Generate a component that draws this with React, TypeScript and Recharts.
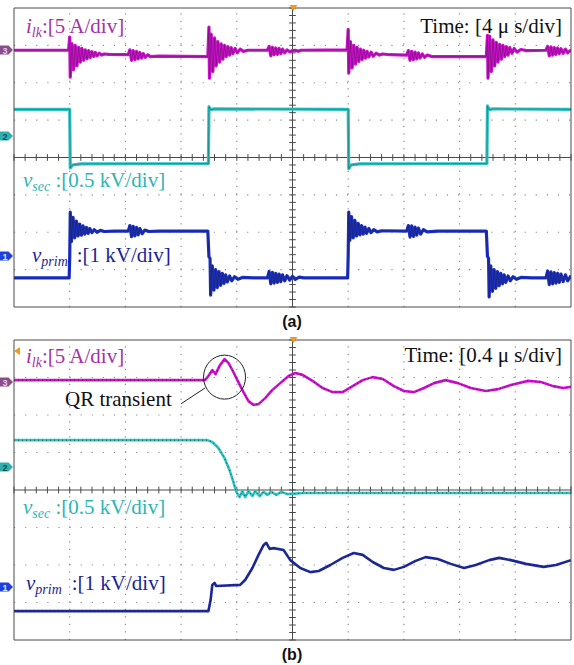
import { LineChart, Line, XAxis, YAxis, ReferenceLine, ReferenceDot } from 'recharts'

type Pt = [number, number]

// x in divisions (0..10), y in divisions (0..8)

// (a) 4 us/div
const A_ILK: Pt[] = [
  [0, 6.87], [0.98, 6.87],
  [1.0, 7.22], [1.01, 6.15], [1.04, 7.05], [1.07, 6.35], [1.1, 7.0], [1.13, 6.45], [1.16, 6.95], [1.19, 6.55],
  [1.22, 6.92], [1.25, 6.6], [1.28, 6.88], [1.31, 6.64], [1.34, 6.86], [1.37, 6.68], [1.4, 6.83], [1.43, 6.7],
  [1.46, 6.81], [1.49, 6.72], [1.53, 6.79], [1.57, 6.74], [1.62, 6.77], [1.7, 6.76], [2.05, 6.75],
  [2.08, 6.88], [2.11, 6.6], [2.14, 6.86], [2.17, 6.62], [2.2, 6.84], [2.23, 6.64], [2.26, 6.81], [2.29, 6.66],
  [2.32, 6.78], [2.36, 6.68], [2.4, 6.75], [2.45, 6.7], [2.6, 6.71], [3.48, 6.7],
  [3.5, 7.49], [3.51, 6.12], [3.54, 7.3], [3.57, 6.3], [3.6, 7.2], [3.63, 6.45], [3.66, 7.1], [3.69, 6.55],
  [3.72, 7.04], [3.75, 6.63], [3.78, 7.0], [3.81, 6.7], [3.84, 6.97], [3.87, 6.74], [3.9, 6.94], [3.93, 6.78],
  [3.97, 6.92], [4.01, 6.8], [4.06, 6.9], [4.12, 6.84], [4.2, 6.87], [4.55, 6.87],
  [4.58, 6.97], [4.61, 6.72], [4.64, 6.95], [4.67, 6.75], [4.7, 6.93], [4.73, 6.76], [4.76, 6.92], [4.79, 6.78],
  [4.82, 6.9], [4.86, 6.8], [4.9, 6.88], [4.95, 6.83], [5.0, 6.86], [5.05, 6.87], [5.1, 6.84], [5.15, 6.87], [5.98, 6.88],
  [6.0, 7.43], [6.01, 6.26], [6.04, 7.1], [6.07, 6.4], [6.1, 7.0], [6.13, 6.5], [6.16, 6.95], [6.19, 6.57],
  [6.22, 6.9], [6.25, 6.62], [6.28, 6.87], [6.31, 6.66], [6.34, 6.84], [6.37, 6.69], [6.41, 6.82], [6.45, 6.71],
  [6.5, 6.79], [6.56, 6.74], [6.62, 6.77], [6.75, 6.75], [7.05, 6.74],
  [7.08, 6.86], [7.11, 6.6], [7.14, 6.84], [7.17, 6.62], [7.2, 6.82], [7.23, 6.64], [7.26, 6.8], [7.29, 6.66],
  [7.33, 6.77], [7.37, 6.68], [7.42, 6.74], [7.5, 6.7], [8.48, 6.7],
  [8.5, 7.27], [8.51, 6.12], [8.54, 7.25], [8.57, 6.3], [8.6, 7.15], [8.63, 6.45], [8.66, 7.08], [8.69, 6.55],
  [8.72, 7.03], [8.75, 6.63], [8.78, 7.0], [8.81, 6.7], [8.84, 6.97], [8.87, 6.74], [8.9, 6.94], [8.94, 6.79],
  [8.98, 6.92], [9.03, 6.82], [9.1, 6.89], [9.2, 6.86], [9.55, 6.87],
  [9.58, 6.97], [9.61, 6.72], [9.64, 6.96], [9.67, 6.74], [9.7, 6.94], [9.73, 6.76], [9.76, 6.93], [9.79, 6.78],
  [9.82, 6.91], [9.86, 6.79], [9.9, 6.9], [9.94, 6.8], [10, 6.88],
]

const A_VSEC: Pt[] = [
  [0, 5.29], [1.0, 5.29], [1.01, 3.72], [1.05, 3.8], [1.2, 3.83], [3.49, 3.84],
  [3.5, 5.36], [3.53, 5.28], [3.6, 5.3], [6.0, 5.29],
  [6.01, 3.7], [6.05, 3.8], [6.2, 3.83], [8.49, 3.84],
  [8.5, 5.38], [8.53, 5.28], [8.6, 5.3], [10, 5.29],
]

const A_VPRIM: Pt[] = [
  [0, 0.78], [0.99, 0.78], [1.0, 1.3], [1.01, 2.54], [1.03, 1.75], [1.06, 2.4], [1.09, 1.85], [1.12, 2.3],
  [1.15, 1.9], [1.18, 2.22], [1.21, 1.92], [1.24, 2.17], [1.27, 1.95], [1.3, 2.13], [1.33, 1.97], [1.36, 2.1],
  [1.4, 1.99], [1.44, 2.07], [1.49, 2.0], [1.55, 2.05], [1.62, 2.02], [1.8, 2.03], [2.05, 2.03],
  [2.08, 2.18], [2.11, 1.88], [2.14, 2.16], [2.17, 1.9], [2.2, 2.13], [2.23, 1.93], [2.26, 2.1], [2.3, 1.96],
  [2.35, 2.06], [2.42, 2.02], [2.6, 2.03], [3.48, 2.03],
  [3.5, 1.34], [3.52, 1.3], [3.53, 0.32], [3.56, 1.1], [3.59, 0.45], [3.62, 1.0], [3.65, 0.52], [3.68, 0.95],
  [3.71, 0.58], [3.74, 0.9], [3.77, 0.63], [3.8, 0.86], [3.83, 0.67], [3.87, 0.83], [3.91, 0.7], [3.96, 0.81],
  [4.02, 0.74], [4.1, 0.79], [4.3, 0.78], [4.55, 0.78],
  [4.58, 0.95], [4.61, 0.62], [4.64, 0.93], [4.67, 0.64], [4.7, 0.9], [4.73, 0.66], [4.76, 0.88], [4.79, 0.68],
  [4.82, 0.86], [4.86, 0.7], [4.9, 0.84], [4.95, 0.72], [5.0, 0.82], [5.05, 0.74], [5.12, 0.8], [5.2, 0.78], [5.99, 0.78],
  [6.0, 1.39], [6.01, 2.54], [6.03, 1.78], [6.06, 2.42], [6.09, 1.85], [6.12, 2.32], [6.15, 1.9], [6.18, 2.24],
  [6.21, 1.93], [6.24, 2.18], [6.27, 1.95], [6.3, 2.14], [6.33, 1.97], [6.37, 2.1], [6.41, 1.99], [6.46, 2.07],
  [6.52, 2.01], [6.6, 2.04], [7.05, 2.03],
  [7.08, 2.18], [7.11, 1.87], [7.14, 2.17], [7.17, 1.89], [7.2, 2.14], [7.23, 1.92], [7.26, 2.11], [7.3, 1.95],
  [7.35, 2.07], [7.42, 2.01], [7.6, 2.03], [8.48, 2.03],
  [8.5, 1.36], [8.52, 1.3], [8.53, 0.27], [8.56, 1.1], [8.59, 0.42], [8.62, 1.0], [8.65, 0.5], [8.68, 0.95],
  [8.71, 0.57], [8.74, 0.9], [8.77, 0.62], [8.8, 0.86], [8.83, 0.66], [8.87, 0.83], [8.91, 0.7], [8.96, 0.81],
  [9.02, 0.74], [9.1, 0.79], [9.3, 0.78], [9.55, 0.78],
  [9.58, 0.96], [9.61, 0.6], [9.64, 0.94], [9.67, 0.62], [9.7, 0.92], [9.73, 0.64], [9.76, 0.9], [9.79, 0.66],
  [9.82, 0.88], [9.86, 0.68], [9.9, 0.86], [9.94, 0.7], [10, 0.84],
]

// (b) 0.4 us/div
const B_ILK: Pt[] = [
  [0, 6.93], [3.43, 6.93], [3.49, 7.04], [3.56, 7.2], [3.62, 7.09], [3.69, 7.31], [3.78, 7.49], [3.85, 7.39],
  [3.92, 7.2], [4.01, 6.93], [4.12, 6.61], [4.21, 6.37], [4.3, 6.27], [4.39, 6.29], [4.51, 6.45], [4.64, 6.67],
  [4.78, 6.85], [4.93, 7.04], [5.05, 7.12], [5.18, 7.07], [5.36, 6.91], [5.54, 6.72], [5.72, 6.61], [5.9, 6.61],
  [6.08, 6.77], [6.26, 6.93], [6.44, 7.01], [6.62, 6.96], [6.82, 6.77], [7.0, 6.64], [7.18, 6.61], [7.36, 6.72],
  [7.54, 6.85], [7.75, 6.93], [7.97, 6.85], [8.2, 6.72], [8.47, 6.64], [8.69, 6.69], [8.92, 6.8], [9.23, 6.91],
  [9.46, 6.88], [9.68, 6.77], [9.86, 6.72], [10, 6.75],
]

const B_VSEC: Pt[] = [
  [0, 5.33], [3.47, 5.33], [3.56, 5.28], [3.67, 5.12], [3.78, 4.85], [3.87, 4.53], [3.94, 4.21], [3.99, 3.95],
  [4.05, 3.81], [4.1, 3.97], [4.15, 3.81], [4.21, 3.97], [4.28, 3.84], [4.33, 3.97], [4.41, 3.84], [4.48, 3.95],
  [4.55, 3.87], [4.62, 3.95], [4.71, 3.87], [4.8, 3.95], [4.91, 3.89], [5.2, 3.92], [10, 3.92],
]

const B_VPRIM: Pt[] = [
  [0, 0.77], [3.49, 0.77], [3.53, 1.07], [3.56, 1.47], [3.6, 1.52], [3.63, 1.44], [4.06, 1.47], [4.15, 1.6],
  [4.28, 1.92], [4.39, 2.27], [4.48, 2.53], [4.53, 2.59], [4.59, 2.43], [4.66, 2.45], [4.84, 2.4], [4.96, 2.13],
  [5.14, 1.92], [5.32, 1.81], [5.47, 1.84], [5.68, 2.0], [5.9, 2.19], [6.1, 2.32], [6.26, 2.27], [6.44, 2.08],
  [6.64, 1.92], [6.82, 1.87], [7.0, 1.95], [7.21, 2.11], [7.39, 2.21], [7.61, 2.16], [7.84, 2.03], [8.08, 1.92],
  [8.29, 2.0], [8.53, 2.13], [8.71, 2.19], [8.92, 2.13], [9.19, 2.03], [9.51, 1.95], [9.73, 2.0], [10, 2.13],
]

// scope graticule: minor ticks every 1/5 division, dotted lines every division
const MINOR_X = Array.from({ length: 51 }, (_, i) => i / 5)
const MINOR_Y = Array.from({ length: 41 }, (_, i) => i / 5)
const DIV_X = [1, 2, 3, 4, 6, 7, 8, 9]
const DIV_Y = [1, 2, 3, 5, 6, 7]

const MAGENTA = '#d10fd1'
const CYAN = '#2ec4c4'
const BLUE = '#1b2fc4'
const FRAME = '#4a4a4a'
const SERIF = '"Liberation Serif", "Times New Roman", serif'

const rows = (pts: Pt[]) => pts.map(([x, y]) => ({ x, y }))

interface Trace {
  data: Pt[]
  color: string
  width: number
  noise?: boolean
}

function Scope({ height, top, bottom, traces, extra }: { height: number; top: number; bottom: number; traces: Trace[]; extra?: any }) {
  const axisCommon = {
    type: 'number' as const,
    mirror: true,
    tick: false,
    tickSize: 4,
    interval: 0 as const,
    allowDataOverflow: true,
    axisLine: { stroke: FRAME },
    tickLine: { stroke: FRAME },
  }
  return (
    <LineChart width={574} height={height} margin={{ top, right: 3, bottom, left: 14 }}>
      <XAxis {...axisCommon} dataKey="x" domain={[0, 10]} ticks={MINOR_X} orientation="bottom" />
      <XAxis {...axisCommon} xAxisId="top" dataKey="x" domain={[0, 10]} ticks={MINOR_X} orientation="top" />
      <YAxis {...axisCommon} domain={[0, 8]} ticks={MINOR_Y} orientation="left" />
      <YAxis {...axisCommon} yAxisId="right" domain={[0, 8]} ticks={MINOR_Y} orientation="right" />
      {DIV_X.map((x) => (
        <ReferenceLine key={'gx' + x} x={x} stroke="#8c8c8c" strokeWidth={1.2} strokeDasharray="1.2 6.3" />
      ))}
      {DIV_Y.map((y) => (
        <ReferenceLine key={'gy' + y} y={y} stroke="#8c8c8c" strokeWidth={1.2} strokeDasharray="1.2 9.9" />
      ))}
      <ReferenceLine x={5} stroke={FRAME} />
      <ReferenceLine y={4} stroke={FRAME} />
      {MINOR_X.map((x) => (
        <ReferenceLine key={'tx' + x} segment={[{ x, y: 3.91 }, { x, y: 4.09 }]} stroke={FRAME} />
      ))}
      {MINOR_Y.map((y) => (
        <ReferenceLine key={'ty' + y} segment={[{ x: 4.94, y }, { x: 5.06, y }]} stroke={FRAME} />
      ))}
      {traces.map((t, i) => (
        <Line
          key={'c' + i}
          data={rows(t.data)}
          dataKey="y"
          type="linear"
          dot={false}
          stroke={t.color}
          strokeWidth={t.width}
          strokeLinejoin="round"
          isAnimationActive={false}
        />
      ))}
      {traces.map((t, i) => (
        <Line
          key={'k' + i}
          data={rows(t.data)}
          dataKey="y"
          type="linear"
          dot={false}
          stroke="#1a1a1a"
          strokeWidth={t.noise ? 1 : 0.6}
          strokeOpacity={t.noise ? 0.75 : 0.55}
          strokeDasharray={t.noise ? '1 3' : undefined}
          isAnimationActive={false}
        />
      ))}
      {extra}
    </LineChart>
  )
}

function Marker({ y, n, fill, textFill }: { y: number; n: string; fill: string; textFill: string }) {
  return (
    <g>
      <path d={`M0 ${y - 4.5} H8.5 L13 ${y} L8.5 ${y + 4.5} H0 Z`} fill={fill} />
      <text x={5} y={y + 3.5} fontSize={9} fontWeight="bold" fontFamily="Arial, sans-serif" fill={textFill} textAnchor="middle">
        {n}
      </text>
    </g>
  )
}

function Sub({ main, sub, color, x, y, after, gap }: { main: string; sub: string; color: string; x: number; y: number; after: string; gap: number }) {
  return (
    <text x={x} y={y} fill={color} fontSize={21} fontFamily={SERIF}>
      <tspan fontStyle="italic">{main}</tspan>
      <tspan fontStyle="italic" fontSize={14} dy={4}>
        {sub}
      </tspan>
      <tspan dy={-4} dx={gap}>
        {after}
      </tspan>
    </text>
  )
}

const overlay: any = { position: 'absolute', left: 0, top: 0, pointerEvents: 'none', overflow: 'visible' }

export default function App() {
  return (
    <div style={{ position: 'absolute', left: 0, top: 0, width: 574, height: 665, background: '#fff', overflow: 'hidden' }}>
      {/* (a) */}
      <div style={{ position: 'absolute', left: 0, top: 0, width: 574, height: 330 }}>
        <Scope
          height={320}
          top={8}
          bottom={13}
          traces={[
            { data: A_ILK, color: MAGENTA, width: 3.2 },
            { data: A_VSEC, color: CYAN, width: 3.2 },
            { data: A_VPRIM, color: BLUE, width: 3.2 },
          ]}
        />
        <svg width={574} height={330} style={overlay}>
          <path d="M289.5 5 H297.5 L293.5 11 Z" fill="#f29a1c" />
          <Marker y={50} n="3" fill="#8a4d8a" textFill="#e6c8e6" />
          <Marker y={136} n="2" fill="#2fb0b0" textFill="#0f4f4f" />
          <Marker y={256} n="1" fill="#1f3fe0" textFill="#dfe6ff" />
          <Sub main="i" sub="lk" color="#a630a6" x={26} y={33} after=":[5 A/div]" gap={0} />
          <text x={562} y={33} textAnchor="end" fontSize={21} fontFamily={SERIF} fill="#111">
            Time: [4 μ s/div]
          </text>
          <Sub main="v" sub="sec" color="#2db5b5" x={23} y={187} after=" :[0.5 kV/div]" gap={0} />
          <Sub main="v" sub="prim" color="#1c1f96" x={32} y={262} after=":[1 kV/div]" gap={9} />
          <text x={292} y={327} textAnchor="middle" fontSize={16} fontWeight="bold" fontFamily="Arial, sans-serif" fill="#111">
            (a)
          </text>
        </svg>
      </div>

      {/* (b) */}
      <div style={{ position: 'absolute', left: 0, top: 330, width: 574, height: 335 }}>
        <Scope
          height={335}
          top={10}
          bottom={25}
          traces={[
            { data: B_ILK, color: MAGENTA, width: 2.6, noise: true },
            { data: B_VSEC, color: CYAN, width: 2.6, noise: true },
            { data: B_VPRIM, color: '#1c2a9c', width: 2.6, noise: true },
          ]}
          extra={[
            <ReferenceDot
              key="qr"
              x={3.78}
              y={7.01}
              ifOverflow="visible"
              shape={(p: any) => <ellipse cx={p.cx} cy={p.cy} rx={21} ry={22} fill="none" stroke="#222" strokeWidth={1} />}
            />,
            <ReferenceLine key="qrl" segment={[{ x: 3.0, y: 6.3 }, { x: 3.43, y: 6.72 }]} stroke="#222" strokeWidth={1} />,
          ]}
        />
        <svg width={574} height={335} style={overlay}>
          <path d="M289.5 7 H297.5 L293.5 13 Z" fill="#f29a1c" />
          <path d="M14 21 L20 17 L20 25 Z" fill="#f29a1c" />
          <Marker y={52} n="3" fill="#8a4d8a" textFill="#e6c8e6" />
          <Marker y={137} n="2" fill="#2fb0b0" textFill="#0f4f4f" />
          <Marker y={257} n="1" fill="#1f3fe0" textFill="#dfe6ff" />
          <Sub main="i" sub="lk" color="#a630a6" x={26} y={33} after=":[5 A/div]" gap={0} />
          <text x={562} y={32} textAnchor="end" fontSize={21} fontFamily={SERIF} fill="#111">
            Time: [0.4 μ s/div]
          </text>
          <text x={65} y={76} fontSize={21} fontFamily={SERIF} fill="#111">
            QR transient
          </text>
          <Sub main="v" sub="sec" color="#2db5b5" x={23} y={184} after=" :[0.5 kV/div]" gap={0} />
          <Sub main="v" sub="prim" color="#1c1f96" x={26} y={260} after=":[1 kV/div]" gap={10} />
          <text x={292} y={330} textAnchor="middle" fontSize={16} fontWeight="bold" fontFamily="Arial, sans-serif" fill="#111">
            (b)
          </text>
        </svg>
      </div>
    </div>
  )
}
